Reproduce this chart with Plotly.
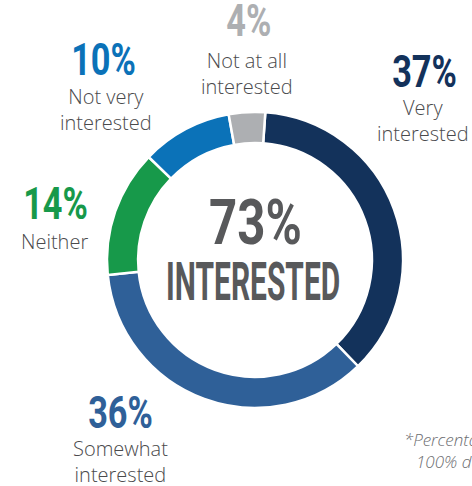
import plotly.graph_objects as go

# ---- data ----
categories = ["Very interested", "Somewhat interested", "Neither",
              "Not very interested", "Not at all interested"]
label_lines = ["Very<br>interested", "Somewhat<br>interested", "Neither",
               "Not very<br>interested", "Not at all<br>interested"]
values = [37, 36, 14, 10, 4]
colors = ["#13325b", "#2f6098", "#17994a", "#0b72b8", "#adafb2"]
interested_total = values[0] + values[1]
footnote = ["*Percentages may not total", "100% due to rounding"]

W, H = 472, 486

def px(x):
    return x / W

def py(y):
    return 1 - y / H

fig = go.Figure(go.Pie(
    labels=categories, values=values, sort=False, direction="clockwise",
    rotation=4, hole=0.79, textinfo="none", hoverinfo="label+percent",
    marker=dict(colors=colors, line=dict(color="white", width=2.5)),
    domain=dict(x=[px(106), px(404)], y=[py(408), py(112)]),
    showlegend=False,
))

PCT_FONT = "Roboto"
LBL_FONT = "Open Sans"
LBL_COLOR = "#4a4a4c"

# (pct centre, label centre) in pixels
label_pos = [
    ((424, 72), (423, 120)),
    ((120, 413), (120, 461)),
    ((55, 204), (54, 241)),
    ((103, 60), (106, 110)),
    ((249, 21), (247, 73)),
]

ann = []
for v, lab, col, (pp, lp) in zip(values, label_lines, colors, label_pos):
    ann.append(dict(x=px(pp[0]), y=py(pp[1]), xref="paper", yref="paper",
                    text=f"{v}%", showarrow=False, xanchor="center", yanchor="middle",
                    font=dict(family=PCT_FONT, size=44, color=col, weight=700)))
    ann.append(dict(x=px(lp[0]), y=py(lp[1]), xref="paper", yref="paper",
                    text=lab, showarrow=False, xanchor="center", yanchor="middle",
                    font=dict(family=LBL_FONT, size=20, color=LBL_COLOR, weight=300)))

ann.append(dict(x=px(255), y=py(222), xref="paper", yref="paper",
                text=f"{interested_total}%", showarrow=False,
                xanchor="center", yanchor="middle",
                font=dict(family=PCT_FONT, size=63, color="#58595b", weight=700)))
ann.append(dict(x=px(253), y=py(282), xref="paper", yref="paper",
                text="INTERESTED", showarrow=False,
                xanchor="center", yanchor="middle",
                font=dict(family=PCT_FONT, size=53, color="#58595b", weight=700)))

ann.append(dict(x=px(402), y=py(439), xref="paper", yref="paper",
                text=footnote[0], showarrow=False,
                xanchor="left", yanchor="middle",
                font=dict(family=LBL_FONT, size=17, color="#6d6e71", style="italic", weight=300)))
ann.append(dict(x=px(414), y=py(461), xref="paper", yref="paper",
                text=footnote[1], showarrow=False,
                xanchor="left", yanchor="middle",
                font=dict(family=LBL_FONT, size=17, color="#6d6e71", style="italic", weight=300)))

fig.update_layout(
    width=W, height=H, margin=dict(l=0, r=0, t=0, b=0),
    paper_bgcolor="white", plot_bgcolor="white",
    annotations=ann,
)

post = """
document.body.style.margin = '0';
var gd = document.getElementById('{plot_id}');
gd.querySelectorAll('text.annotation-text').forEach(function(t){
  var s = t.textContent.trim();
  var k = null;
  if (s === 'INTERESTED') k = 0.565;
  else if (/^\\d+%$/.test(s)) k = 0.78;
  if (k === null) return;
  var bb = t.getBBox();
  var cx = bb.x + bb.width / 2;
  t.setAttribute('transform', 'translate(' + cx + ',0) scale(' + k + ',1) translate(' + (-cx) + ',0)');
});
"""

fig.write_html("out.html", post_script=post, config={"displayModeBar": False})
